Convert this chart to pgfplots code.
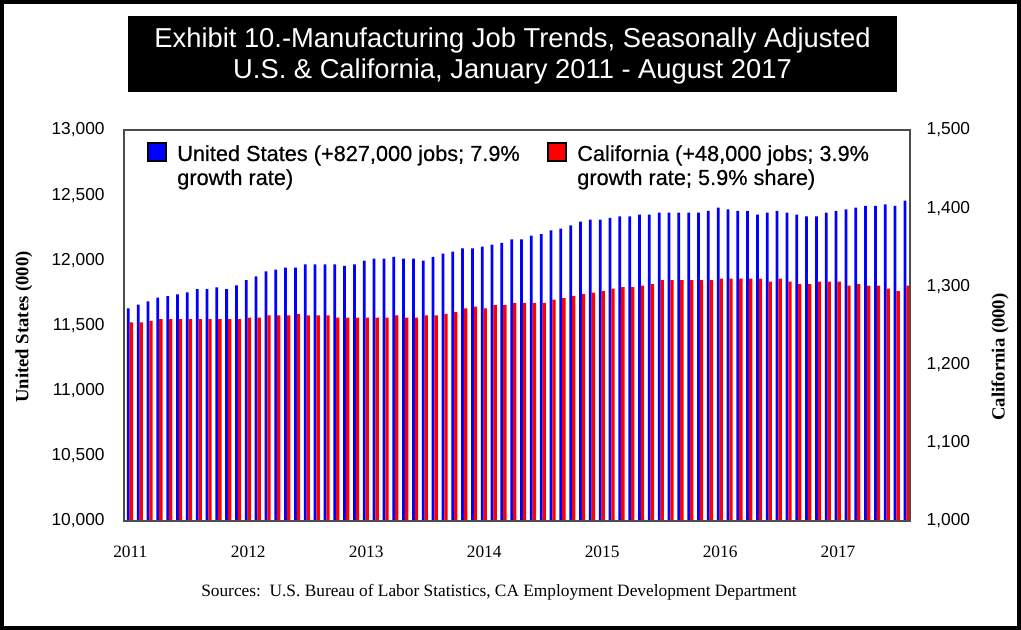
\documentclass[border=0pt]{standalone}
\usepackage{fontspec}
\usepackage{pgfplots}
\usepackage{pgfplotstable}
\pgfplotsset{compat=1.18}
\setmainfont{Liberation Serif}
\newfontfamily\arial{Liberation Sans}
\newfontfamily\legfont[FakeBold=0.5]{Liberation Sans}
\newfontfamily\titlefont{Liberation Sans}
\definecolor{usblue}{RGB}{0,0,255}
\definecolor{cared}{RGB}{255,0,0}

\pgfplotstableread{
i us ca
0 11632 1254
1 11660 1254
2 11686 1256
3 11714 1258
4 11726 1258
5 11739 1258
6 11755 1258
7 11780 1258
8 11780 1258
9 11793 1258
10 11780 1258
11 11808 1258
12 11849 1260
13 11877 1260
14 11916 1263
15 11929 1263
16 11944 1263
17 11944 1265
18 11969 1263
19 11969 1263
20 11969 1263
21 11969 1260
22 11957 1260
23 11969 1260
24 11998 1260
25 12013 1260
26 12013 1260
27 12026 1263
28 12013 1260
29 12013 1260
30 11998 1263
31 12026 1263
32 12051 1265
33 12066 1267
34 12092 1272
35 12092 1274
36 12105 1272
37 12120 1276
38 12133 1276
39 12161 1279
40 12161 1279
41 12189 1279
42 12202 1279
43 12230 1283
44 12243 1285
45 12269 1288
46 12297 1290
47 12312 1292
48 12312 1294
49 12325 1297
50 12338 1299
51 12338 1299
52 12350 1301
53 12350 1303
54 12366 1308
55 12366 1308
56 12366 1308
57 12366 1308
58 12366 1308
59 12379 1308
60 12404 1310
61 12391 1310
62 12379 1310
63 12379 1310
64 12350 1310
65 12366 1306
66 12379 1310
67 12366 1306
68 12350 1303
69 12338 1303
70 12338 1306
71 12366 1306
72 12379 1306
73 12391 1301
74 12404 1303
75 12417 1301
76 12417 1301
77 12430 1297
78 12417 1294
79 12458 1301
}\jobdata

\begin{document}
\begin{tikzpicture}
% frame of whole picture (px coordinates, origin top-left)
\begin{scope}[x=0.75pt,y=-0.75pt]
\useasboundingbox (0,0) rectangle (1021,630);
\fill[white] (0,0) rectangle (1021,630);
\draw[black,line width=3pt] (2,2) rectangle (1019,628);
% title box
\fill[black] (128,16) rectangle (897,92);
\node[text=white,font=\titlefont\fontsize{20.5}{23}\selectfont,align=center,inner sep=0pt] at (512.5,56)
  {Exhibit 10.-Manufacturing Job Trends, Seasonally Adjusted\\U.S. \& California, January 2011 - August 2017};
\end{scope}

\begin{axis}[
  at={(93pt,-390.75pt)}, anchor=south west,
  scale only axis, width=589.5pt, height=293.25pt,
  xmin=-0.44, xmax=79.52,
  ymin=10000, ymax=13000,
  ytick={10000,10500,...,13000},
  scaled y ticks=false,
  xtick={0.2,12.2,24.2,36.2,48.2,60.2,72.2},
  xticklabels={2011,2012,2013,2014,2015,2016,2017},
  major tick length=0pt,
  axis line style={draw=black!70,line width=1pt},
  yticklabel style={font=\arial\fontsize{13}{15}\selectfont,xshift=-11pt},
  xticklabel style={font=\fontsize{13}{15}\selectfont,yshift=-15pt},
  /pgf/number format/assume math mode=true,
  /pgf/number format/1000 sep={,},
]
\addplot[ybar,bar width=0.28,fill=usblue,draw=none] table[x=i,y=us] {\jobdata};
\end{axis}

\begin{axis}[
  at={(93pt,-390.75pt)}, anchor=south west,
  scale only axis, width=589.5pt, height=293.25pt,
  xmin=-0.44, xmax=79.52,
  ymin=1000, ymax=1500,
  ytick={1000,1100,...,1500},
  scaled y ticks=false,
  axis y line*=right, axis x line=none,
  major tick length=0pt,
  axis line style={draw=black!70,line width=1pt},
  yticklabel style={font=\arial\fontsize{13}{15}\selectfont,xshift=9pt},
  /pgf/number format/assume math mode=true,
  /pgf/number format/1000 sep={,},
]
\addplot[ybar,bar width=0.34,fill=cared,draw=none] table[x expr=\thisrow{i}+0.31,y=ca] {\jobdata};
\end{axis}

\begin{scope}[x=0.75pt,y=-0.75pt]
% redraw plot frame
\draw[black!70,line width=1pt] (124,130) rectangle (910,521);
% legend
\fill[usblue,draw=black,line width=0.9pt] (148,143) rectangle (166,161);
\fill[cared,draw=black,line width=0.9pt] (548,143) rectangle (566,161);
\node[anchor=base west,inner sep=0pt,font=\legfont\fontsize{16.3}{19}\selectfont] at (177,161) {United States (+827,000 jobs; 7.9\%};
\node[anchor=base west,inner sep=0pt,font=\legfont\fontsize{16.3}{19}\selectfont] at (177,185) {growth rate)};
\node[anchor=base west,inner sep=0pt,font=\legfont\fontsize{16.3}{19}\selectfont] at (577,161) {California (+48,000 jobs; 3.9\%};
\node[anchor=base west,inner sep=0pt,font=\legfont\fontsize{16.3}{19}\selectfont] at (577,185) {growth rate; 5.9\% share)};
% axis titles
\node[rotate=90,font=\bfseries\fontsize{14}{16}\selectfont,inner sep=0pt] at (24,327) {United States (000)};
\node[rotate=90,font=\bfseries\fontsize{14}{16}\selectfont,inner sep=0pt] at (1000,357) {California (000)};
% source
\node[font=\fontsize{13}{15}\selectfont,inner sep=0pt] at (499,592) {Sources:\ \ U.S. Bureau of Labor Statistics, CA Employment Development Department};
\end{scope}
\end{tikzpicture}
\end{document}
